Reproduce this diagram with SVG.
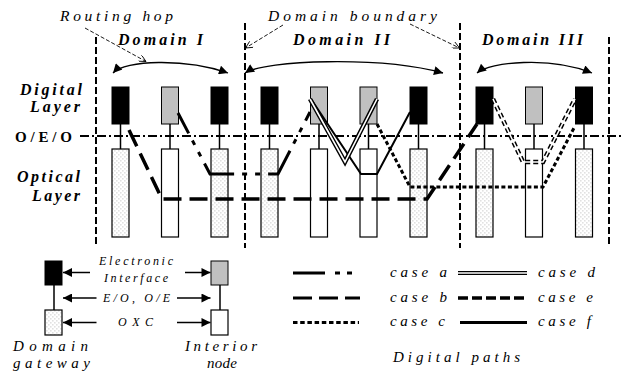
<svg xmlns="http://www.w3.org/2000/svg" width="622" height="377" viewBox="0 0 622 377">
<style>
text{font-family:"Liberation Serif","Times New Roman",serif;fill:#000}
.it{font-style:italic}
.bi{font-style:italic;font-weight:bold}
.b{font-weight:bold}
.dig{stroke:#000;stroke-width:1}
.blk{fill:#000}
.gry{fill:#c0c0c0}
.opt{stroke:#000;stroke-width:1.2}
.wht{fill:#fff}
.dot{fill:url(#dots)}
.lnk{stroke:#000;stroke-width:1.5}
.bnd{stroke:#000;stroke-width:2;stroke-dasharray:7,3;fill:none}
.curve{fill:none;stroke:#000;stroke-width:1.3;marker-start:url(#tri);marker-end:url(#tri)}
.ptr{fill:none;stroke:#000;stroke-width:0.9;stroke-dasharray:4,2;marker-end:url(#vee)}
.ca{fill:none;stroke:#000;stroke-width:3;stroke-dasharray:36,8,5,8,5,8}
.cb{fill:none;stroke:#000;stroke-width:3.5;stroke-dasharray:18,8}
.cc{fill:none;stroke:#000;stroke-width:3;stroke-dasharray:4,2.5}
.cdo{fill:none;stroke:#000;stroke-width:4.5}
.cdi{fill:none;stroke:#fff;stroke-width:1.6}
.ceo{fill:none;stroke:#000;stroke-width:4.5;stroke-dasharray:5,3}
.cf{fill:none;stroke:#000;stroke-width:2}
.la{stroke:#000;stroke-width:1.5;marker-end:url(#tri2)}
</style>
<defs>
<pattern id="dots" width="4" height="4" patternUnits="userSpaceOnUse">
<rect width="4" height="4" fill="#fff"/>
<rect x="0.5" y="0.5" width="0.8" height="0.8" fill="#888"/>
<rect x="2.5" y="2.5" width="0.8" height="0.8" fill="#888"/>
</pattern>
<marker id="tri" viewBox="0 0 10 10" refX="10" refY="5" markerWidth="15" markerHeight="9" markerUnits="userSpaceOnUse" orient="auto-start-reverse">
<path d="M0,0 L10,5 L0,10 z" fill="#000"/>
</marker>
<marker id="tri2" viewBox="0 0 10 10" refX="10" refY="5" markerWidth="13" markerHeight="9" markerUnits="userSpaceOnUse" orient="auto">
<path d="M0,0 L10,5 L0,10 z" fill="#000"/>
</marker>
<marker id="vee" viewBox="0 0 10 10" refX="10" refY="5" markerWidth="9" markerHeight="7" markerUnits="userSpaceOnUse" orient="auto">
<path d="M0,0 L10,5 L0,10" fill="none" stroke="#000" stroke-width="1.2"/>
</marker>
</defs>
<rect width="622" height="377" fill="#fff"/>

<g id="labels">
<text class="it" x="60" y="21" font-size="15.5" textLength="113" lengthAdjust="spacing">Routing hop</text>
<text class="it" x="268" y="21" font-size="15.5" textLength="169" lengthAdjust="spacing">Domain boundary</text>
<text class="bi" x="118" y="45" font-size="16" textLength="85" lengthAdjust="spacing">Domain I</text>
<text class="bi" x="293" y="45" font-size="16" textLength="97" lengthAdjust="spacing">Domain II</text>
<text class="bi" x="482" y="45" font-size="16" textLength="101" lengthAdjust="spacing">Domain III</text>
<text class="bi" x="20" y="95" font-size="16" textLength="62" lengthAdjust="spacing">Digital</text>
<text class="bi" x="30" y="112" font-size="16" textLength="50" lengthAdjust="spacing">Layer</text>
<text class="b" x="15" y="142" font-size="15" textLength="57" lengthAdjust="spacing">O/E/O</text>
<text class="bi" x="17" y="182" font-size="16" textLength="63" lengthAdjust="spacing">Optical</text>
<text class="bi" x="32" y="201" font-size="16" textLength="48" lengthAdjust="spacing">Layer</text>
</g>

<g id="boundaries">
<line class="bnd" x1="96" y1="37" x2="96" y2="247"/>
<line class="bnd" x1="245" y1="23" x2="245" y2="248"/>
<line class="bnd" x1="460" y1="23" x2="460" y2="248"/>
<line class="bnd" x1="609" y1="37" x2="609" y2="247"/>
<line x1="80" y1="136" x2="622" y2="136" stroke="#000" stroke-width="2" stroke-dasharray="9,3,2,3"/>
</g>

<g id="n1"><rect class="dig blk" x="112" y="87" width="17" height="37"/><line class="lnk" x1="120.5" y1="124" x2="120.5" y2="149"/><rect class="opt dot" x="112" y="149" width="17" height="88"/></g>
<g id="n2"><rect class="dig gry" x="161.5" y="87" width="17" height="37"/><line class="lnk" x1="170" y1="124" x2="170" y2="149"/><rect class="opt wht" x="161.5" y="149" width="17" height="88"/></g>
<g id="n3"><rect class="dig blk" x="211" y="87" width="17" height="37"/><line class="lnk" x1="219.5" y1="124" x2="219.5" y2="149"/><rect class="opt dot" x="211" y="149" width="17" height="88"/></g>
<g id="n4"><rect class="dig blk" x="261" y="87" width="17" height="37"/><line class="lnk" x1="269.5" y1="124" x2="269.5" y2="149"/><rect class="opt dot" x="261" y="149" width="17" height="88"/></g>
<g id="n5"><rect class="dig gry" x="310.5" y="87" width="17" height="37"/><line class="lnk" x1="319" y1="124" x2="319" y2="149"/><rect class="opt wht" x="310.5" y="149" width="17" height="88"/></g>
<g id="n6"><rect class="dig gry" x="360" y="87" width="17" height="37"/><line class="lnk" x1="368.5" y1="124" x2="368.5" y2="149"/><rect class="opt wht" x="360" y="149" width="17" height="88"/></g>
<g id="n7"><rect class="dig blk" x="410" y="87" width="17" height="37"/><line class="lnk" x1="418.5" y1="124" x2="418.5" y2="149"/><rect class="opt dot" x="410" y="149" width="17" height="88"/></g>
<g id="n8"><rect class="dig blk" x="476" y="87" width="17" height="37"/><line class="lnk" x1="484.5" y1="124" x2="484.5" y2="149"/><rect class="opt dot" x="476" y="149" width="17" height="88"/></g>
<g id="n9"><rect class="dig gry" x="525.5" y="87" width="17" height="37"/><line class="lnk" x1="534" y1="124" x2="534" y2="149"/><rect class="opt wht" x="525.5" y="149" width="17" height="88"/></g>
<g id="n10"><rect class="dig blk" x="575.5" y="87" width="17" height="37"/><line class="lnk" x1="584" y1="124" x2="584" y2="149"/><rect class="opt dot" x="575.5" y="149" width="17" height="88"/></g>

<g id="connectors">
<path class="curve" d="M113,73 C125,60 185,58 228,73"/>
<path class="curve" d="M245,73 C265,60 380,56 443,73"/>
<path class="curve" d="M477,73 C490,62 550,56 592,73"/>
<path class="ptr" d="M85,28 L146,61.5"/>
<path class="ptr" d="M283,25 L245.5,48"/>
<path class="ptr" d="M410,24 L459.5,48"/>
<path class="cb" d="M129,130 L162,199 L427,199 L477,124"/>
<path class="ca" stroke-dashoffset="13" d="M178,113 L210,174 L278,174 L310,112"/>
<path class="cf" d="M311,99 L361,174 L377,174 L410,112"/>
<path class="cdo" d="M310,99 L345,162 L377,99"/>
<path class="cdi" d="M310,99 L345,162 L377,99"/>
<path class="cc" d="M377,124 L410,187 L543,187 L575,126"/>
<path class="ceo" d="M493,99 L523,162 L543,162 L575,99"/>
<path class="cdi" d="M493,99 L523,162 L543,162 L575,99"/>
</g>

<g id="legend-gateway">
<rect class="dig blk" x="45" y="261" width="17" height="24"/>
<line class="lnk" x1="54" y1="285" x2="54" y2="310"/>
<rect class="opt dot" x="45" y="310" width="17" height="25"/>
<text class="it" x="13" y="351" font-size="15" textLength="75" lengthAdjust="spacing">Domain</text>
<text class="it" x="13" y="368" font-size="15" textLength="77" lengthAdjust="spacing">gateway</text>
</g>
<g id="legend-interior">
<rect class="dig gry" x="211" y="261" width="17" height="24"/>
<line class="lnk" x1="220" y1="285" x2="220" y2="310"/>
<rect class="opt wht" x="211" y="310" width="17" height="25"/>
<text class="it" x="185" y="351" font-size="15" textLength="72" lengthAdjust="spacing">Interior</text>
<text class="it" x="207" y="368" font-size="15" textLength="30" lengthAdjust="spacing">node</text>
</g>
<g id="legend-arrows">
<line class="la" x1="90" y1="272.5" x2="63" y2="272.5"/>
<line class="la" x1="185" y1="272.5" x2="210.5" y2="272.5"/>
<line class="la" x1="96.5" y1="298" x2="63" y2="298"/>
<line class="la" x1="177" y1="298" x2="210.5" y2="298"/>
<line class="la" x1="96.5" y1="322.5" x2="63" y2="322.5"/>
<line class="la" x1="177" y1="322.5" x2="210.5" y2="322.5"/>
<text class="it" x="99" y="265" font-size="12" textLength="74" lengthAdjust="spacing">Electronic</text>
<text class="it" x="104" y="282" font-size="12" textLength="64" lengthAdjust="spacing">Interface</text>
<text class="it" x="103" y="302" font-size="12" textLength="67" lengthAdjust="spacing">E/O, O/E</text>
<text class="it" x="118" y="326" font-size="12" textLength="35" lengthAdjust="spacing">OXC</text>
</g>
<g id="legend-paths">
<line class="ca" stroke-dashoffset="0" x1="293" y1="273" x2="352" y2="273" style="stroke-dasharray:32,10,5,7,5,20"/>
<line class="cb" x1="293" y1="298" x2="360" y2="298" style="stroke-dasharray:19,7;stroke-width:3"/>
<line class="cc" x1="293" y1="322.5" x2="359" y2="322.5" style="stroke-dasharray:4.5,2.7"/>
<line class="cdo" x1="458" y1="273" x2="527" y2="273" style="stroke-width:4"/>
<line class="cdi" x1="458" y1="273" x2="527" y2="273" style="stroke-width:1.4"/>
<line x1="458" y1="298" x2="527" y2="298" stroke="#000" stroke-width="3.3" stroke-dasharray="10,4"/>
<line class="cf" x1="460" y1="322.5" x2="527" y2="322.5" style="stroke-width:3"/>
<text class="it" x="390" y="277" font-size="15" textLength="57" lengthAdjust="spacing">case a</text>
<text class="it" x="390" y="302" font-size="15" textLength="57" lengthAdjust="spacing">case b</text>
<text class="it" x="390" y="326" font-size="15" textLength="55" lengthAdjust="spacing">case c</text>
<text class="it" x="538" y="277" font-size="15" textLength="57" lengthAdjust="spacing">case d</text>
<text class="it" x="538" y="302" font-size="15" textLength="55" lengthAdjust="spacing">case e</text>
<text class="it" x="538" y="326" font-size="15" textLength="53" lengthAdjust="spacing">case f</text>
<text class="it" x="393" y="362" font-size="15" textLength="127" lengthAdjust="spacing">Digital paths</text>
</g>
</svg>
